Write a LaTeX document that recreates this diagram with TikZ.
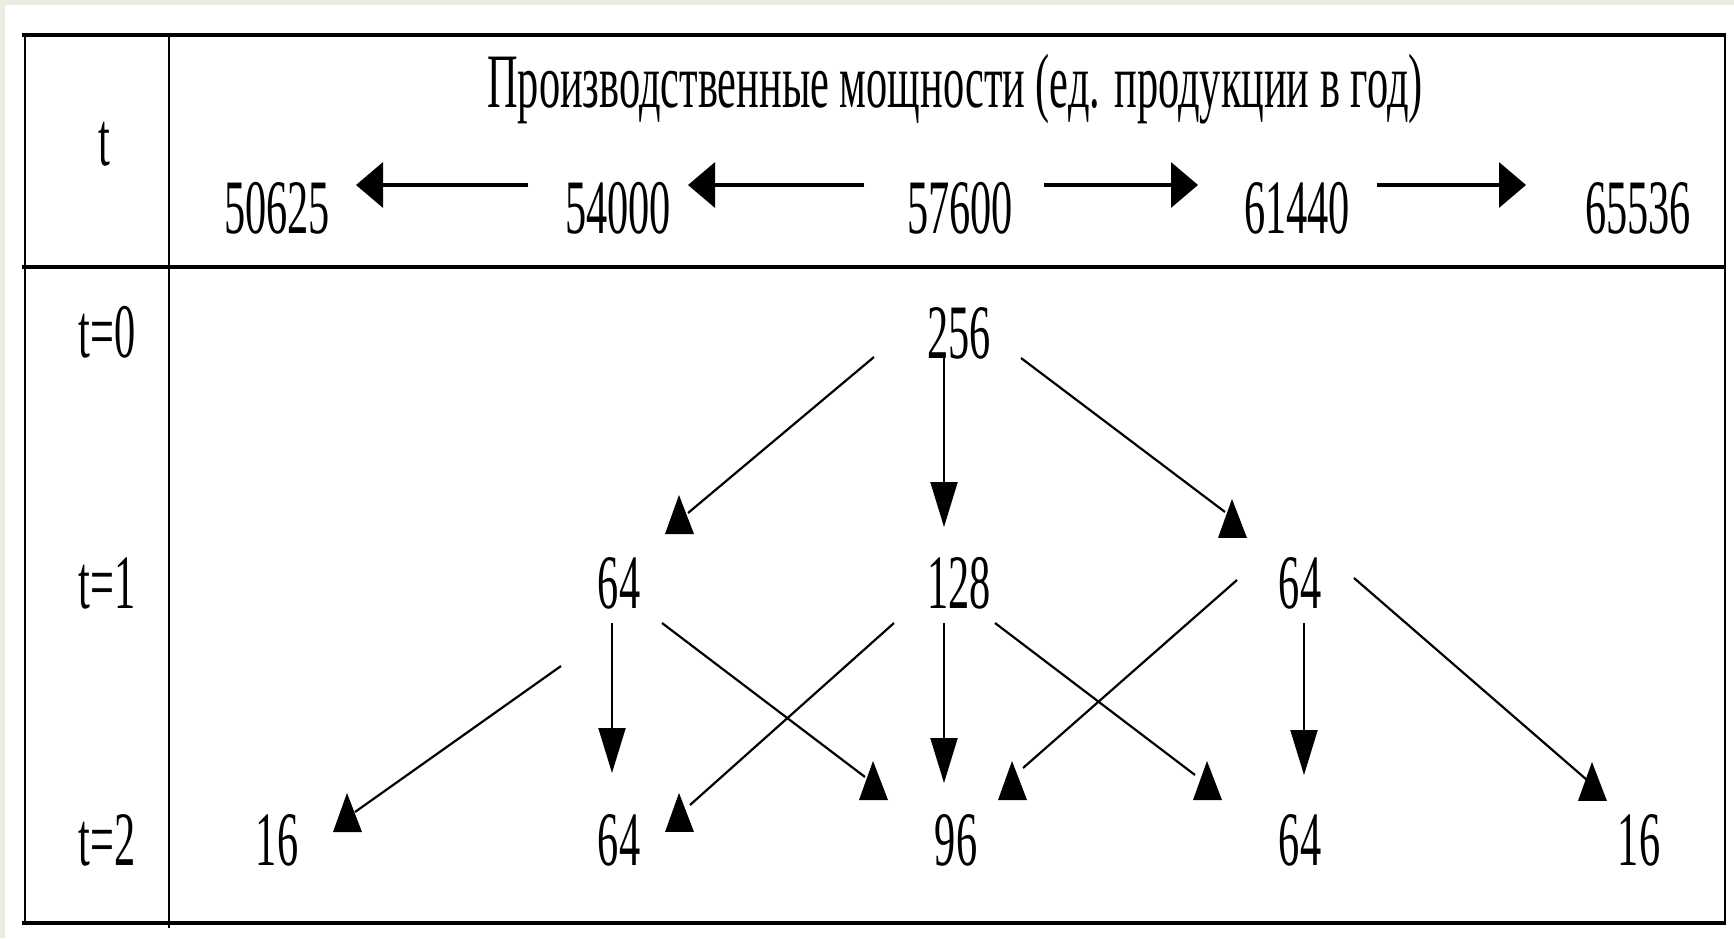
\documentclass[tikz,border=0pt]{standalone}
\usepackage{fontspec}
\setmainfont{Liberation Serif}[FakeStretch=0.55]
\usetikzlibrary{arrows.meta,calc,decorations.markings}
\definecolor{pagebg}{HTML}{EEECE1}
\tikzset{
  txt/.style={anchor=base, inner sep=0pt, font=\fontsize{77}{80}\selectfont},
  hline/.style={line width=3.5pt},
  vline/.style={line width=2pt},
  harrow/.style={line width=3.5pt, -{Triangle[length=27pt,width=45pt]}},
  varrow/.style={line width=2pt, -{Triangle[length=45pt,width=27pt]}},
  darrow/.style={line width=2.2pt, postaction={decorate, decoration={markings,
     mark=at position 1 with {\pgftransformresetnontranslations
       \fill #1 -- ++(-14,39) -- ++(29,0) -- cycle;}}}},
}
\begin{document}
\begin{tikzpicture}[x=1pt,y=-1pt]
\useasboundingbox (0,0) rectangle (1734,938);
\fill[pagebg] (0,0) rectangle (1734,938);
\fill[white] (5,5) rectangle (1734,938);
% table
\draw[hline] (22,35) -- (1726,35);
\draw[hline] (22,267) -- (1726,267);
\draw[hline] (22,923) -- (1726,923);
\draw[vline] (24.5,35) -- (24.5,923);
\draw[vline] (169,35) -- (169,928);
\draw[vline] (1724.5,35) -- (1724.5,923);
% header texts
\node[txt] (tt) at (104,165) {t};
\node[txt] (title) at (955,107) {Производственные мощности (ед. продукции в год)};
\node[txt] (h1) at (277,233) {50625};
\node[txt] (h2) at (618,233) {54000};
\node[txt] (h3) at (960,233) {57600};
\node[txt] (h4) at (1297,233) {61440};
\node[txt] (h5) at (1638,233) {65536};
% row labels
\node[txt] (l0) at (107,357) {t=0};
\node[txt] (l1) at (107,608) {t=1};
\node[txt] (l2) at (107,865) {t=2};
% tree
\node[txt] (a) at (959,358) {256};
\node[txt] (b1) at (619,608) {64};
\node[txt] (b2) at (959,608) {128};
\node[txt] (b3) at (1300,608) {64};
\node[txt] (c1) at (277,865) {16};
\node[txt] (c2) at (619,865) {64};
\node[txt] (c3) at (956,865) {96};
\node[txt] (c4) at (1300,865) {64};
\node[txt] (c5) at (1639,865) {16};
% header arrows
\draw[harrow] ($(h2.base)+(-90,-48)$) -- ($(h1.base)+(79,-48)$);
\draw[harrow] ($(h3.base)+(-96,-48)$) -- ($(h2.base)+(70,-48)$);
\draw[harrow] ($(h3.base)+(84,-48)$) -- ($(h4.base)+(-99,-48)$);
\draw[harrow] ($(h4.base)+(80,-48)$) -- ($(h5.base)+(-112,-48)$);
% vertical tree arrows
\draw[varrow] ($(a.base)+(-15,-1)$) -- ($(b2.base)+(-15,-81)$);
\draw[varrow] ($(b1.base)+(-7,15)$) -- ($(c2.base)+(-7,-92)$);
\draw[varrow] ($(b2.base)+(-15,15)$) -- ($(c3.base)+(-12,-82)$);
\draw[varrow] ($(b3.base)+(4,15)$) -- ($(c4.base)+(4,-90)$);
% diagonal tree arrows
\draw[darrow={(-9,-18)}] ($(a.base)+(-85,-1)$) -- ($(b1.base)+(69,-95)$);
\draw[darrow={(7,-13)}] ($(a.base)+(62,0)$) -- ($(b3.base)+(-75,-96)$);
\draw[darrow={(-8,-19)}] ($(b1.base)+(-58,58)$) -- ($(c1.base)+(78,-53)$);
\draw[darrow={(8,-16)}] ($(b1.base)+(43,15)$) -- ($(c3.base)+(-91,-88)$);
\draw[darrow={(-11,-12)}] ($(b2.base)+(-65,15)$) -- ($(c2.base)+(71,-60)$);
\draw[darrow={(12,-14)}] ($(b2.base)+(36,15)$) -- ($(c4.base)+(-105,-90)$);
\draw[darrow={(-11,-7)}] ($(b3.base)+(-63,-28)$) -- ($(c3.base)+(67,-97)$);
\draw[darrow={(5,-18)}] ($(b3.base)+(54,-30)$) -- ($(c5.base)+(-52,-85)$);
\end{tikzpicture}
\end{document}
